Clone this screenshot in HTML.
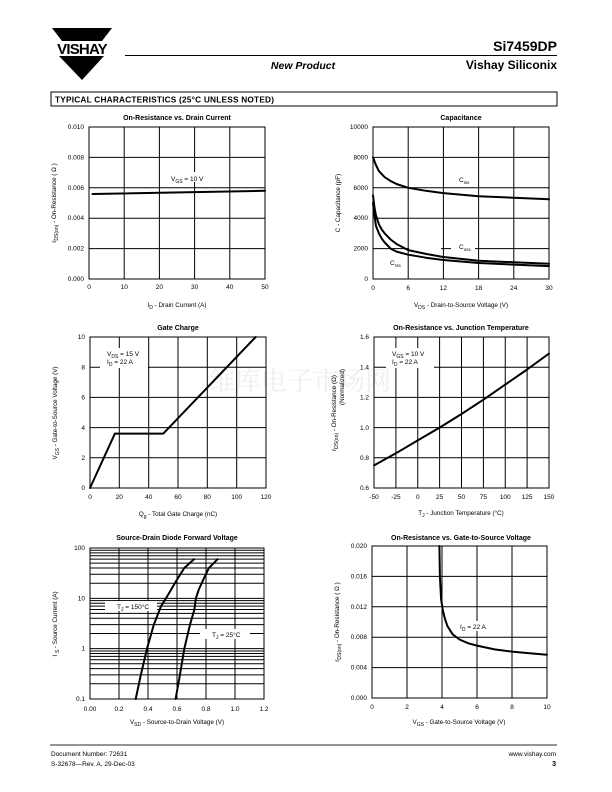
<!DOCTYPE html>
<html><head><meta charset="utf-8"><style>
html,body{margin:0;padding:0;background:#fff}
svg{display:block}
text{font-family:"Liberation Sans",Arial,sans-serif;fill:#000}
.t{font-size:6.5px}
.ti{font-size:7px;font-weight:bold}
.ax{font-size:6.3px}
.g{stroke:#000;stroke-width:1;fill:none}
.c{stroke:#000;stroke-width:2;fill:none;stroke-linejoin:round;stroke-linecap:round}
</style></head><body>
<svg width="612" height="792" viewBox="0 0 612 792" xmlns="http://www.w3.org/2000/svg">
<!-- header -->
<polygon points="52,28 112,28 102,41 62,41" fill="#000"/>
<text x="82" y="54" text-anchor="middle" style="font-size:15px;font-weight:bold;letter-spacing:-0.8px">VISHAY</text>
<polygon points="59,56 104,56 82,80" fill="#000"/>
<text x="557" y="51" text-anchor="end" style="font-size:14px;font-weight:bold">Si7459DP</text>
<line x1="125" y1="55.5" x2="557" y2="55.5" stroke="#000" stroke-width="1"/>
<text x="303" y="69" text-anchor="middle" style="font-size:10.5px;font-weight:bold;font-style:italic">New Product</text>
<text x="557" y="69" text-anchor="end" style="font-size:12px;font-weight:bold">Vishay Siliconix</text>
<rect x="51" y="92" width="506" height="14" fill="#fff" stroke="#000" stroke-width="1"/>
<text x="55" y="102.5" style="font-size:8.3px;font-weight:bold;letter-spacing:0.2px">TYPICAL CHARACTERISTICS (25°C UNLESS NOTED)</text>

<text x="300" y="390" text-anchor="middle" style="font-size:26px;fill:#eee;font-family:'Noto Serif CJK SC',serif">维库电子市场网</text>

<!-- Chart 1 -->
<text x="177" y="120" text-anchor="middle" class="ti">On-Resistance vs. Drain Current</text>
<g transform="translate(89,127)">
<path class="g" d="M0,0H176V152H0Z M35.2,0V152 M70.4,0V152 M105.6,0V152 M140.8,0V152 M0,30.4H176 M0,60.8H176 M0,91.2H176 M0,121.6H176"/>
<path class="c" d="M3.5,67 L176,63.8"/>
<rect x="78" y="45" width="46" height="10" fill="#fff"/>
<text x="82" y="54" class="t">V<tspan dy="2" style="font-size:5px">GS</tspan><tspan dy="-2"> = 10 V</tspan></text>
<g class="t" text-anchor="end"><text x="-5" y="2">0.010</text><text x="-5" y="32.4">0.008</text><text x="-5" y="62.8">0.006</text><text x="-5" y="93.2">0.004</text><text x="-5" y="123.6">0.002</text><text x="-5" y="154">0.000</text></g>
<g class="t" text-anchor="middle"><text x="0" y="162">0</text><text x="35.2" y="162">10</text><text x="70.4" y="162">20</text><text x="105.6" y="162">30</text><text x="140.8" y="162">40</text><text x="176" y="162">50</text></g>
<text x="88" y="180" text-anchor="middle" class="ax">I<tspan dy="2" style="font-size:5px">D</tspan><tspan dy="-2">  -  Drain Current (A)</tspan></text>
<text transform="translate(-33,76) rotate(-90)" text-anchor="middle" class="ax">r<tspan dy="2" style="font-size:5px">DS(on)</tspan><tspan dy="-2">  -  On-Resistance ( Ω )</tspan></text>
</g>

<!-- Chart 2 -->
<text x="461" y="120" text-anchor="middle" class="ti">Capacitance</text>
<g transform="translate(373,127)">
<path class="g" d="M0,0H176V152H0Z M35.2,0V152 M70.4,0V152 M105.6,0V152 M140.8,0V152 M0,30.4H176 M0,60.8H176 M0,91.2H176 M0,121.6H176"/>
<rect x="36" y="116" width="32" height="8" fill="#fff"/>
<rect x="78" y="115" width="24" height="10" fill="#fff"/>
<polyline class="c" points="0,30.4 2.9,38 5.9,44.1 11.7,50.2 17.6,54 23.5,57 35.2,60.8 52.8,63.8 70.4,66.1 105.6,69.2 140.8,70.7 176,72.2"/>
<polyline class="c" points="0,68.4 1.5,80.6 2.9,88.2 5.9,97.3 8.8,102.6 11.7,106.4 17.6,112.5 23.5,117 35.2,123.1 52.8,126.9 70.4,130 105.6,133.8 140.8,135.3 176,136.8"/>
<polyline class="c" points="0,76 1.5,88.2 2.9,98.8 5.9,106.4 8.8,111.7 11.7,115.5 17.6,121.6 23.5,124.6 35.2,127.7 52.8,130.7 70.4,133 105.6,136 140.8,137.6 176,139.1"/>
<text x="86" y="55" class="t">C<tspan dy="2" style="font-size:4.5px">iss</tspan></text>
<text x="86" y="122" class="t">C<tspan dy="2" style="font-size:4.5px">oss</tspan></text>
<text x="17" y="138" class="t">C<tspan dy="2" style="font-size:4.5px">rss</tspan></text>
<g class="t" text-anchor="end"><text x="-5" y="2">10000</text><text x="-5" y="32.4">8000</text><text x="-5" y="62.8">6000</text><text x="-5" y="93.2">4000</text><text x="-5" y="123.6">2000</text><text x="-5" y="154">0</text></g>
<g class="t" text-anchor="middle"><text x="0" y="163">0</text><text x="35.2" y="163">6</text><text x="70.4" y="163">12</text><text x="105.6" y="163">18</text><text x="140.8" y="163">24</text><text x="176" y="163">30</text></g>
<text x="88" y="180" text-anchor="middle" class="ax">V<tspan dy="2" style="font-size:5px">DS</tspan><tspan dy="-2">  -  Drain-to-Source Voltage (V)</tspan></text>
<text transform="translate(-33,76) rotate(-90)" text-anchor="middle" class="ax">C  -  Capacitance (pF)</text>
</g>

<!-- Chart 3 -->
<text x="178" y="330" text-anchor="middle" class="ti">Gate Charge</text>
<g transform="translate(90,337)">
<path class="g" d="M0,0H176V151H0Z M29.3,0V151 M58.7,0V151 M88,0V151 M117.3,0V151 M146.7,0V151 M0,30.2H176 M0,60.4H176 M0,90.6H176 M0,120.8H176"/>
<rect x="10" y="11" width="48" height="20" fill="#fff"/>
<text x="17" y="19" class="t">V<tspan dy="2" style="font-size:5px">DS</tspan><tspan dy="-2"> = 15 V</tspan></text>
<text x="17" y="27" class="t">I<tspan dy="2" style="font-size:5px">D</tspan><tspan dy="-2"> = 22 A</tspan></text>
<path class="c" d="M0,151 L24.9,96.6 L73.3,96.6 L165.7,0"/>
<g class="t" text-anchor="end"><text x="-5" y="2">10</text><text x="-5" y="32.4">8</text><text x="-5" y="62.6">6</text><text x="-5" y="92.8">4</text><text x="-5" y="123">2</text><text x="-5" y="153">0</text></g>
<g class="t" text-anchor="middle"><text x="0" y="162">0</text><text x="29.3" y="162">20</text><text x="58.7" y="162">40</text><text x="88" y="162">60</text><text x="117.3" y="162">80</text><text x="146.7" y="162">100</text><text x="176" y="162">120</text></g>
<text x="88" y="179" text-anchor="middle" class="ax">Q<tspan dy="2" style="font-size:5px">g</tspan><tspan dy="-2">  -  Total Gate Charge (nC)</tspan></text>
<text transform="translate(-33,76) rotate(-90)" text-anchor="middle" class="ax">V<tspan dy="2" style="font-size:5px">GS</tspan><tspan dy="-2">  -  Gate-to-Source Voltage (V)</tspan></text>
</g>

<!-- Chart 4 -->
<text x="461" y="330" text-anchor="middle" class="ti">On-Resistance vs. Junction Temperature</text>
<g transform="translate(374,337)">
<path class="g" d="M0,0H175V151H0Z M21.9,0V151 M43.75,0V151 M65.6,0V151 M87.5,0V151 M109.4,0V151 M131.25,0V151 M153.1,0V151 M0,30.2H175 M0,60.4H175 M0,90.6H175 M0,120.8H175"/>
<rect x="12" y="11" width="48" height="20" fill="#fff"/>
<text x="18" y="19" class="t">V<tspan dy="2" style="font-size:5px">GS</tspan><tspan dy="-2"> = 10 V</tspan></text>
<text x="18" y="27" class="t">I<tspan dy="2" style="font-size:5px">D</tspan><tspan dy="-2"> = 22 A</tspan></text>
<polyline class="c" points="0,128.4 21.9,116.3 43.75,103.4 65.6,90.6 87.5,77 109.4,62.7 131.25,47.6 153.1,32.5 175,16.6"/>
<g class="t" text-anchor="end"><text x="-5" y="2">1.6</text><text x="-5" y="32.4">1.4</text><text x="-5" y="62.6">1.2</text><text x="-5" y="92.8">1.0</text><text x="-5" y="123">0.8</text><text x="-5" y="153">0.6</text></g>
<g class="t" text-anchor="middle"><text x="0" y="162">-50</text><text x="21.9" y="162">-25</text><text x="43.75" y="162">0</text><text x="65.6" y="162">25</text><text x="87.5" y="162">50</text><text x="109.4" y="162">75</text><text x="131.25" y="162">100</text><text x="153.1" y="162">125</text><text x="175" y="162">150</text></g>
<text x="87" y="178" text-anchor="middle" class="ax">T<tspan dy="2" style="font-size:5px">J</tspan><tspan dy="-2"> - Junction Temperature (°C)</tspan></text>
<text transform="translate(-38,76) rotate(-90)" text-anchor="middle" class="ax">r<tspan dy="2" style="font-size:5px">DS(on)</tspan><tspan dy="-2">  -  On-Resistance (Ω)</tspan></text>
<text transform="translate(-30,50) rotate(-90)" text-anchor="middle" class="ax">(Normalized)</text>
</g>

<!-- Chart 5 -->
<text x="177" y="540" text-anchor="middle" class="ti">Source-Drain Diode Forward Voltage</text>
<g transform="translate(90,548)">
<path class="g" d="M0,0H174V151H0Z M29,0V151 M58,0V151 M87,0V151 M116,0V151 M145,0V151
M0,135.8H174 M0,126.9H174 M0,120.6H174 M0,115.8H174 M0,111.8H174 M0,108.4H174 M0,105.5H174 M0,103H174 M0,100.67H174
M0,85.5H174 M0,76.6H174 M0,70.3H174 M0,65.4H174 M0,61.5H174 M0,58.1H174 M0,55.2H174 M0,52.6H174 M0,50.33H174
M0,35.2H174 M0,26.3H174 M0,20H174 M0,15.1H174 M0,11.1H174 M0,7.8H174 M0,4.9H174 M0,2.3H174"/>
<rect x="15" y="53" width="52" height="10" fill="#fff"/>
<rect x="110" y="81" width="50" height="10" fill="#fff"/>
<text x="27" y="61" class="t">T<tspan dy="2" style="font-size:5px">J</tspan><tspan dy="-2"> = 150°C</tspan></text>
<text x="122" y="89" class="t">T<tspan dy="2" style="font-size:5px">J</tspan><tspan dy="-2"> = 25°C</tspan></text>
<polyline class="c" points="45.7,151 50.8,127 57,100.7 63.8,76.7 71,58.3 76,50.3 81.2,41.5 86.7,32.1 94.3,20 104,11.2"/>
<polyline class="c" points="85.6,151 89.9,127 94.3,100.7 100,76.7 104.4,61.5 105.9,50.3 108.8,41.5 113.1,32.1 118.9,20 127.6,11.2"/>
<g class="t" text-anchor="end"><text x="-5" y="2">100</text><text x="-5" y="52.3">10</text><text x="-5" y="102.7">1</text><text x="-5" y="153">0.1</text></g>
<g class="t" text-anchor="middle"><text x="0" y="163">0.00</text><text x="29" y="163">0.2</text><text x="58" y="163">0.4</text><text x="87" y="163">0.6</text><text x="116" y="163">0.8</text><text x="145" y="163">1.0</text><text x="174" y="163">1.2</text></g>
<text x="87" y="176" text-anchor="middle" class="ax">V<tspan dy="2" style="font-size:5px">SD</tspan><tspan dy="-2">  -  Source-to-Drain Voltage (V)</tspan></text>
<text transform="translate(-33,76) rotate(-90)" text-anchor="middle" class="ax">I <tspan dy="2" style="font-size:5px">S</tspan><tspan dy="-2">  -  Source Current (A)</tspan></text>
</g>

<!-- Chart 6 -->
<text x="461" y="540" text-anchor="middle" class="ti">On-Resistance vs. Gate-to-Source Voltage</text>
<g transform="translate(372,546)">
<path class="g" d="M0,0H175V152H0Z M35,0V152 M70,0V152 M105,0V152 M140,0V152 M0,30.4H175 M0,60.8H175 M0,91.2H175 M0,121.6H175"/>
<polyline class="c" points="67.4,0 67.9,30.4 69.1,53.2 70.9,64.6 73,73 75.3,79.8 80.5,88.2 87.5,93.5 96.3,97.3 105,99.6 122.5,103.4 140,105.6 157.5,107.2 175,108.7"/>
<rect x="86" y="75" width="34" height="10" fill="#fff"/>
<text x="88" y="83" class="t">I<tspan dy="2" style="font-size:5px">D</tspan><tspan dy="-2"> = 22  A</tspan></text>
<g class="t" text-anchor="end"><text x="-5" y="2">0.020</text><text x="-5" y="32.4">0.016</text><text x="-5" y="62.8">0.012</text><text x="-5" y="93.2">0.008</text><text x="-5" y="123.6">0.004</text><text x="-5" y="154">0.000</text></g>
<g class="t" text-anchor="middle"><text x="0" y="163">0</text><text x="35" y="163">2</text><text x="70" y="163">4</text><text x="105" y="163">6</text><text x="140" y="163">8</text><text x="175" y="163">10</text></g>
<text x="87" y="178" text-anchor="middle" class="ax">V<tspan dy="2" style="font-size:5px">GS</tspan><tspan dy="-2"> - Gate-to-Source Voltage (V)</tspan></text>
<text transform="translate(-33,76) rotate(-90)" text-anchor="middle" class="ax">r<tspan dy="2" style="font-size:5px">DS(on)</tspan><tspan dy="-2">  -  On-Resistance ( Ω )</tspan></text>
</g>

<!-- footer -->
<line x1="50" y1="745" x2="557" y2="745" stroke="#555" stroke-width="1.2"/>
<text x="51" y="756" style="font-size:6.5px">Document Number:  72631</text>
<text x="51" y="766" style="font-size:6.5px">S-32678—Rev. A, 29-Dec-03</text>
<text x="556" y="756" text-anchor="end" style="font-size:6.5px">www.vishay.com</text>
<text x="556" y="766" text-anchor="end" style="font-size:7px;font-weight:bold">3</text>
</svg>
</body></html>
